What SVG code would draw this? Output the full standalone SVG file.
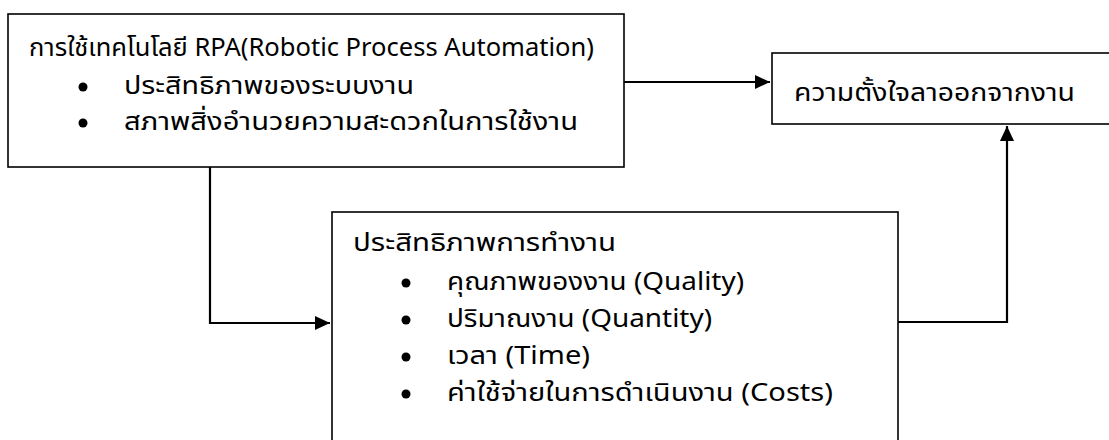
<svg xmlns="http://www.w3.org/2000/svg" width="1109" height="440" viewBox="0 0 1109 440">
<defs>
<style>
.box{fill:#fff;stroke:#000;stroke-width:1.6}
.conn{fill:none;stroke:#000;stroke-width:2.2}
.t{font-family:"Leelawadee UI","Noto Sans Thai","Noto Sans","DejaVu Sans",sans-serif;font-size:25px;fill:#000}
.dot{fill:#000}
</style>
<marker id="ah" markerWidth="16" markerHeight="14" refX="15" refY="7" orient="auto" markerUnits="userSpaceOnUse">
<path d="M0,0 L15,7 L0,14 Z" fill="#000"/>
</marker>
</defs>
<rect width="1109" height="440" fill="#fff"/>
<g id="connectors">
<path class="conn" d="M624,82 H770" marker-end="url(#ah)"/>
<path class="conn" d="M210,167 V323 H330" marker-end="url(#ah)"/>
<path class="conn" d="M898,322 H1007 V126" marker-end="url(#ah)"/>
</g>
<g id="node-rpa">
<rect class="box" x="8" y="14" width="616" height="153"/>
<text class="t" x="29" y="56" textLength="565" lengthAdjust="spacingAndGlyphs">การใช้เทคโนโลยี RPA(Robotic Process Automation)</text>
<circle class="dot" cx="83" cy="87" r="4.5"/>
<text class="t" x="124" y="94" textLength="290" lengthAdjust="spacingAndGlyphs">ประสิทธิภาพของระบบงาน</text>
<circle class="dot" cx="83" cy="123" r="4.5"/>
<text class="t" x="124" y="130" textLength="454" lengthAdjust="spacingAndGlyphs">สภาพสิ่งอำนวยความสะดวกในการใช้งาน</text>
</g>
<g id="node-intent">
<rect class="box" x="772" y="53" width="345" height="71"/>
<text class="t" x="794" y="101" textLength="281" lengthAdjust="spacingAndGlyphs">ความตั้งใจลาออกจากงาน</text>
</g>
<g id="node-performance">
<rect class="box" x="332" y="212" width="566" height="240"/>
<text class="t" x="353" y="251" textLength="263" lengthAdjust="spacingAndGlyphs">ประสิทธิภาพการทำงาน</text>
<circle class="dot" cx="406" cy="283" r="4.5"/>
<text class="t" x="447" y="290" textLength="297" lengthAdjust="spacingAndGlyphs">คุณภาพของงาน (Quality)</text>
<circle class="dot" cx="406" cy="320" r="4.5"/>
<text class="t" x="447" y="327" textLength="265" lengthAdjust="spacingAndGlyphs">ปริมาณงาน (Quantity)</text>
<circle class="dot" cx="406" cy="357" r="4.5"/>
<text class="t" x="447" y="364" textLength="143" lengthAdjust="spacingAndGlyphs">เวลา (Time)</text>
<circle class="dot" cx="406" cy="394" r="4.5"/>
<text class="t" x="447" y="401" textLength="386" lengthAdjust="spacingAndGlyphs">ค่าใช้จ่ายในการดำเนินงาน (Costs)</text>
</g>
</svg>
